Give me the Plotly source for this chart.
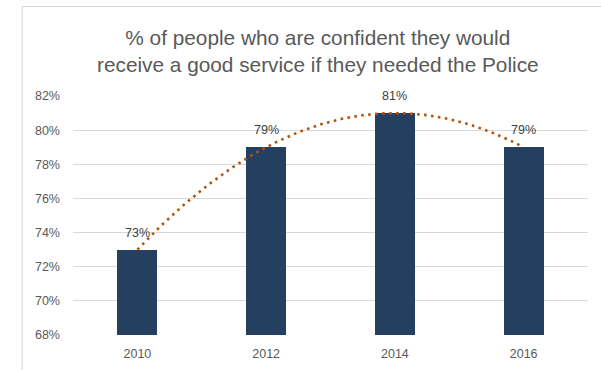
import numpy as np
import plotly.graph_objects as go

years = [2010, 2012, 2014, 2016]
values = [0.73, 0.79, 0.81, 0.79]
labels = ["73%", "79%", "81%", "79%"]
title_lines = ["% of people who are confident they would",
               "receive a good service if they needed the Police"]

W, H = 601, 370
L, R, T, B = 72.5, 12.5, 96, 35
pw, ph = W - L - R, H - T - B

coef = np.polyfit(years, values, 2)
tx = np.linspace(years[0], years[-1], 200)
ty = np.polyval(coef, tx)

fig = go.Figure()
fig.add_trace(go.Bar(
    x=years, y=values, width=0.62,
    marker=dict(color="#253F60", line=dict(width=0)),
    cliponaxis=False, showlegend=False,
))
fig.add_trace(go.Scatter(
    x=tx, y=ty, mode="lines",
    line=dict(color="#B0560F", width=2.6, dash="2.6px,4.4px"),
    showlegend=False, hoverinfo="skip",
))
for xv, yv, lab in zip(years, values, labels):
    fig.add_annotation(x=xv, y=yv, text=lab, showarrow=False,
                       xanchor="center", yanchor="middle", yshift=17,
                       font=dict(family="Liberation Sans", size=12.5, color="#404040"))

def px2paper_x(px):
    return (px - L) / pw

def px2paper_y(py):
    return (H - B - py) / ph

fig.add_shape(type="rect", xref="paper", yref="paper",
              x0=px2paper_x(21.5), x1=px2paper_x(640),
              y0=px2paper_y(400), y1=px2paper_y(6.5),
              line=dict(color="#D9D9D9", width=1.2), layer="below")

fig.add_annotation(xref="paper", yref="paper",
                   x=px2paper_x(318), y=px2paper_y(51),
                   xanchor="center", yanchor="middle", showarrow=False,
                   text="<br>".join(title_lines),
                   font=dict(family="Liberation Sans", size=20.8, color="#595959"))

fig.update_layout(
    width=W, height=H,
    margin=dict(l=L, r=R, t=T, b=B, pad=0, autoexpand=False),
    paper_bgcolor="white", plot_bgcolor="white",
    bargap=0,
    xaxis=dict(range=[2009, 2017], tickvals=years, ticktext=[str(y) for y in years],
               showgrid=False, zeroline=False, showline=False, ticks="",
               ticklabelstandoff=9, automargin=False,
               tickfont=dict(family="Liberation Sans", size=12.5, color="#595959"),
               fixedrange=True),
    yaxis=dict(range=[0.68, 0.82], dtick=0.02, tick0=0.68, tickformat=".0%",
               showgrid=True, gridcolor="#D9D9D9", gridwidth=1.2,
               zeroline=False, showline=False, ticks="",
               ticklabelstandoff=12, automargin=False,
               tickfont=dict(family="Liberation Sans", size=12.5, color="#595959"),
               fixedrange=True),
)
fig.write_html("out.html")
